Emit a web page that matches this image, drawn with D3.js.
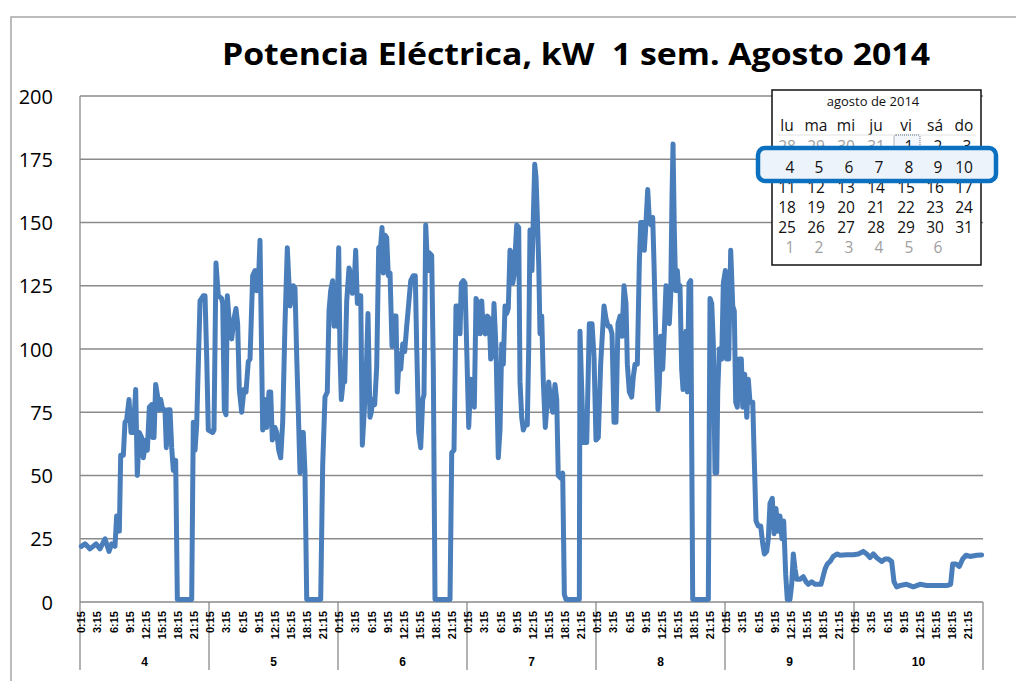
<!DOCTYPE html>
<html lang="es">
<head>
<meta charset="UTF-8">
<title>Potencia Eléctrica, kW 1 sem. Agosto 2014</title>
<script src="https://d3js.org/d3.v7.min.js"></script>
<style>
  body { margin: 0; background: #fff; }
  svg { display: block; }
  .title { font: bold 31px "Open Sans", sans-serif; white-space: pre; }
  .ylab { font: 20px "Open Sans", sans-serif; fill: #000; }
  .tlab { font: bold 11px "Liberation Sans", sans-serif; fill: #000; }
  .dlab { font: bold 12px "Liberation Sans", sans-serif; fill: #000; }
  .cal { font: 15.5px "Open Sans", sans-serif; }
</style>
</head>
<body>
<script>
// hora desde 4 ago 0:00 y potencia (kW)
const hours = [
  0.25,0.93,1.86,2.98,3.72,4.65,5.40,5.89,6.51,6.82,7.32,7.57,8.06,8.37,8.68,9.12,9.49,9.92,10.36,10.66,
  11.04,11.47,11.78,12.28,12.53,12.90,13.33,13.52,13.77,14.08,14.39,14.76,15.01,15.38,15.81,16.06,16.43,16.74,17.06,17.36,
  17.80,18.11,20.78,21.08,21.40,21.71,22.33,22.94,23.26,23.57,23.87,
  24.69,24.93,25.30,25.73,26.36,26.55,26.85,27.16,27.41,27.78,28.22,28.65,29.02,29.33,29.64,30.08,30.51,30.88,31.31,31.63,
  32.13,32.56,32.88,33.17,33.49,33.99,34.42,34.74,35.16,35.48,35.78,36.28,36.60,36.97,37.34,37.71,38.14,38.57,39.07,39.39,
  39.68,40.00,40.32,40.61,40.93,41.25,41.54,41.86,42.18,44.78,45.15,45.58,46.01,46.33,46.64,47.01,47.26,47.50,47.76,48.13,
  48.37,48.62,48.99,49.25,49.62,50.05,50.36,50.66,50.98,51.29,51.60,51.96,52.23,52.53,52.90,53.21,53.58,53.95,54.20,54.46,
  54.83,55.20,55.57,55.94,56.19,56.43,56.75,57.06,57.36,57.68,58.05,58.42,58.79,59.03,59.41,59.67,60.04,60.41,60.78,61.16,
  61.53,62.01,62.38,62.64,63.01,63.39,63.76,64.00,64.32,64.69,64.99,65.43,65.73,66.05,68.84,69.16,69.58,69.95,70.38,70.70,
  70.94,71.32,71.63,71.95,
  72.32,72.69,73.06,73.36,73.68,74.05,74.42,74.74,75.03,75.41,75.78,76.15,76.41,76.78,77.02,77.40,77.82,78.14,78.46,78.76,
  79.07,79.39,79.68,80.00,80.24,80.50,80.75,80.99,81.25,81.62,81.86,82.18,82.48,82.79,83.22,83.48,83.72,84.09,84.34,84.60,
  84.84,85.09,85.35,85.58,85.90,86.20,86.57,86.95,87.20,87.57,87.95,88.37,88.69,88.98,89.43,89.80,90.11,90.42,92.90,93.02,
  93.64,94.27,94.76,95.26,95.63,
  96.00,96.43,96.87,97.49,97.86,98.23,98.60,98.98,99.35,99.72,100.09,100.47,100.84,101.21,101.58,101.83,102.20,102.64,102.94,103.26,
  103.69,104.06,104.32,104.69,104.99,105.30,105.62,105.92,106.23,106.55,106.79,107.16,107.53,107.78,108.04,108.41,108.71,109.02,109.34,109.64,
  109.90,110.14,110.33,110.57,110.83,111.13,111.39,111.63,111.94,112.19,112.43,112.74,112.99,113.30,113.62,113.99,116.90,117.21,117.53,117.83,
  118.14,118.46,118.65,118.94,119.39,119.69,
  120.06,120.32,120.69,121.06,121.44,121.73,121.99,122.29,122.66,123.04,123.30,123.67,124.05,124.34,124.65,125.16,125.40,125.77,126.20,126.64,
  127.02,127.32,127.76,128.06,128.37,128.80,129.12,129.49,129.86,130.23,130.60,130.92,131.29,131.59,132.09,132.41,132.71,133.03,133.34,133.95,
  134.57,135.07,135.50,136.13,136.74,137.36,137.86,138.61,139.03,139.54,140.15,140.90,141.40,142.64,143.87,
  144.80,145.73,146.36,146.98,147.60,148.23,149.16,149.77,150.39,151.01,151.44,151.94,152.56,153.80,155.04,156.28,157.52,158.76,160.00,161.24,
  161.98,162.36,162.98,163.59,164.22,164.84,165.58,166.83,167.75
];
const kw = [
  22,23,21,23,21,25,20,23,22,34,28,58,58,71,72,80,67,67,84,50,
  67,65,57,64,60,77,78,65,65,86,82,76,80,76,76,61,76,76,61,52,
  56,1,1,71,60,70,119,121,121,97,68,
  67,68,134,121,120,118,76,74,121,110,104,112,116,110,84,75,84,83,95,96,
  129,131,123,125,143,68,80,69,83,83,64,69,67,60,57,71,110,140,117,121,
  125,124,97,76,51,67,67,51,1,1,54,81,83,115,123,127,109,125,109,140,
  98,80,88,87,119,132,130,122,124,139,118,121,121,62,76,88,114,73,75,80,
  78,93,140,141,148,130,145,144,129,130,101,113,113,83,98,92,102,99,109,118,
  127,129,129,101,67,61,80,82,149,131,138,137,93,1,1,59,60,117,117,106,
  126,127,126,100,
  69,88,87,77,120,118,106,119,107,106,113,112,96,98,118,100,57,68,102,94,
  117,114,116,139,138,126,129,139,149,148,87,73,68,70,70,100,147,131,152,173,
  168,152,133,106,113,87,69,80,87,79,75,86,80,50,49,51,3,1,1,107,
  63,63,110,110,97,
  64,65,94,117,112,109,109,106,71,71,110,113,105,125,118,94,83,81,89,94,
  94,134,150,150,139,150,163,151,149,152,134,101,76,86,105,92,107,125,124,110,
  121,160,181,147,123,131,123,125,92,84,96,107,83,126,127,1,1,120,118,102,
  51,51,83,100,96,126,
  131,96,96,139,117,115,79,77,96,96,77,90,73,88,79,79,60,32,30,30,
  23,19,20,25,39,41,27,37,28,34,25,32,11,1,1,7,19,13,9,9,
  10,8,7,8,7,7,7,13,15,16,18,19,18.5,18.7,18.7,
  19,20,19,17.5,19,17.5,16,17,17,16,8,6,6.5,7,6,7,6.5,6.5,6.5,6.5,
  7,15,15,14,17,18.5,18,18.5,18.6
];
const days = ["4", "5", "6", "7", "8", "9", "10"];
const tickTimes = ["0:15", "3:15", "6:15", "9:15", "12:15", "15:15", "18:15", "21:15"];
const yTicks = [0, 25, 50, 75, 100, 125, 150, 175, 200];

// calendario
const calTitle = "agosto de 2014";
const weekDays = ["lu", "ma", "mi", "ju", "vi", "sá", "do"];
const calRows = [
  ["28", "29", "30", "31", "1", "2", "3"],
  ["4", "5", "6", "7", "8", "9", "10"],
  ["11", "12", "13", "14", "15", "16", "17"],
  ["18", "19", "20", "21", "22", "23", "24"],
  ["25", "26", "27", "28", "29", "30", "31"],
  ["1", "2", "3", "4", "5", "6"]
];

const width = 1016, height = 681;
const svg = d3.select("body").append("svg").attr("width", width).attr("height", height);

const x = d3.scaleLinear().domain([0, 168]).range([80, 983]);
const y = d3.scaleLinear().domain([0, 200]).range([602, 96]);

// marco
svg.append("path").attr("d", "M11,681V17H1016").attr("fill", "none").attr("stroke", "#a6a6a6").attr("stroke-width", 1.5);

svg.append("text").attr("class", "title")
  .attr("x", 222).attr("y", 65)
  .attr("textLength", 708).attr("lengthAdjust", "spacingAndGlyphs")
  .text("Potencia Eléctrica, kW  1 sem. Agosto 2014");

// rejilla
svg.append("g").selectAll("line").data(yTicks).join("line")
  .attr("x1", 80).attr("x2", 983)
  .attr("y1", d => y(d)).attr("y2", d => y(d))
  .attr("stroke", "#8a8a8a").attr("stroke-width", 1.3);
svg.append("line").attr("x1", 80).attr("x2", 80).attr("y1", y(200)).attr("y2", y(0))
  .attr("stroke", "#8a8a8a").attr("stroke-width", 1.3);

svg.append("g").selectAll("text").data(yTicks).join("text")
  .attr("class", "ylab")
  .attr("x", 53).attr("y", d => y(d))
  .attr("text-anchor", "end").attr("dominant-baseline", "central")
  .text(d => d);

// eje x multinivel
svg.append("g").selectAll("line").data(d3.range(days.length + 1)).join("line")
  .attr("x1", d => x(d * 24)).attr("x2", d => x(d * 24))
  .attr("y1", y(0)).attr("y2", 670)
  .attr("stroke", "#8a8a8a").attr("stroke-width", 1.3);

const tickData = [];
days.forEach((d, i) => tickTimes.forEach((t, k) => tickData.push({ h: i * 24 + k * 3 + 0.25, t })));
svg.append("g").selectAll("text").data(tickData).join("text")
  .attr("class", "tlab")
  .attr("transform", d => `translate(${x(d.h)},611) rotate(-90)`)
  .attr("text-anchor", "end").attr("dominant-baseline", "central")
  .text(d => d.t);

svg.append("g").selectAll("text").data(days).join("text")
  .attr("class", "dlab")
  .attr("x", (d, i) => x(i * 24 + 12)).attr("y", 666)
  .attr("text-anchor", "middle")
  .text(d => d);

// serie
const pts = hours.map((h, i) => [h, kw[i]]);
svg.append("path").datum(pts)
  .attr("fill", "none").attr("stroke", "#4a7ebb").attr("stroke-width", 5)
  .attr("stroke-linejoin", "round").attr("stroke-linecap", "round")
  .attr("d", d3.line().x(d => x(d[0])).y(d => y(d[1])));

// calendario (imagen pegada)
const cal = svg.append("g").attr("class", "cal");
cal.append("rect").attr("x", 772).attr("y", 90).attr("width", 209).attr("height", 175)
  .attr("fill", "#fff").attr("stroke", "#111").attr("stroke-width", 1.5);
cal.append("text").attr("x", 873).attr("y", 106).attr("text-anchor", "middle")
  .style("font-size", "13px").attr("fill", "#111").text(calTitle);
const colX = [787, 816, 846, 876, 906, 935, 964];
cal.selectAll("text.wd").data(weekDays).join("text").attr("class", "wd")
  .attr("x", (d, i) => colX[i]).attr("y", 131).attr("text-anchor", "middle")
  .attr("fill", "#111").text(d => d);
cal.append("line").attr("x1", 778).attr("x2", 976).attr("y1", 135).attr("y2", 135)
  .attr("stroke", "#e2e2e2").attr("stroke-width", 1);
const rowY = [152, 173, 193, 213, 233, 253];
const cellColor = (r, c) => (r === 0 && c < 4) || r === 5 ? "#a0a0a0" : "#111";
function drawRow(r) {
  cal.append("g").selectAll("text").data(calRows[r]).join("text")
    .attr("x", (d, c) => colX[c] + (d.length === 1 ? 3 : 0))
    .attr("y", rowY[r]).attr("text-anchor", "middle")
    .attr("fill", (d, c) => cellColor(r, c))
    .text(d => d);
}
[0, 2, 3, 4, 5].forEach(drawRow);
cal.append("rect").attr("x", 894).attr("y", 135).attr("width", 26).attr("height", 16).attr("rx", 2)
  .attr("fill", "#f3f7fc").attr("stroke", "#5a6a80").attr("stroke-width", 1)
  .attr("stroke-dasharray", "1,1");
cal.append("text").attr("x", colX[4] + 3).attr("y", rowY[0]).attr("text-anchor", "middle")
  .attr("fill", "#111").text(calRows[0][4]);
cal.append("rect").attr("x", 758).attr("y", 148).attr("width", 238).attr("height", 33).attr("rx", 7)
  .attr("fill", "#edf3fb").attr("stroke", "#0a70bf").attr("stroke-width", 4.5);
drawRow(1);
</script>
</body>
</html>
